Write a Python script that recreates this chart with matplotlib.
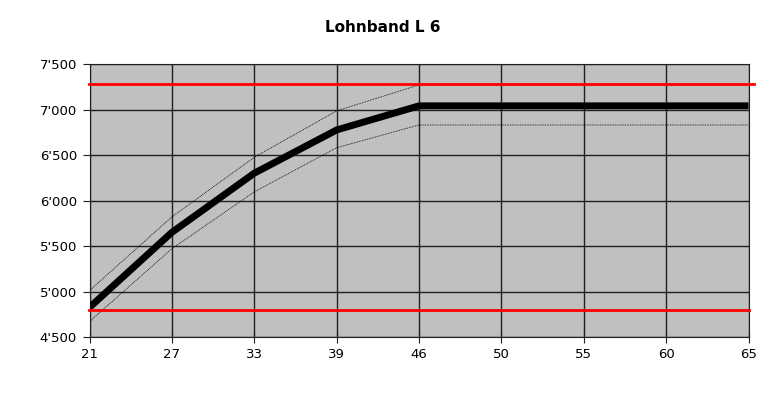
import numpy as np
import matplotlib.pyplot as plt

ages = ["21", "27", "33", "39", "46", "50", "55", "60", "65"]
lohn = [4825, 5650, 6300, 6775, 7040, 7040, 7040, 7040, 7040]
lohn_oben = [5010, 5820, 6475, 6985, 7270, 7270, 7270, 7270, 7270]
lohn_unten = [4670, 5470, 6095, 6580, 6830, 6830, 6830, 6830, 6830]
grenze_oben = 7280
grenze_unten = 4800

x = np.arange(len(ages))

fig = plt.figure(figsize=(7.72, 4.15), dpi=100)
ax = fig.add_axes([89.5/772, 1-337/415, 659/772, 273/415])
ax.set_facecolor("#c0c0c0")

ax.plot(x, lohn_oben, c="black", lw=0.6, ls=(0, (1, 1)), zorder=3)
ax.plot(x, lohn_unten, c="black", lw=0.6, ls=(0, (1, 1)), zorder=3)
ax.plot(x, lohn, c="black", lw=5, solid_capstyle="butt", zorder=4)
ax.plot([-0.01, 8.07], [grenze_oben, grenze_oben], c="#ff0000", lw=2, clip_on=False, zorder=5)
ax.plot([-0.01, 8.0], [grenze_unten, grenze_unten], c="#ff0000", lw=2, clip_on=False, zorder=5)

ax.set_xlim(0, 8)
ax.set_ylim(4500, 7500)
ax.set_xticks(x)
ax.set_xticklabels(ages)
yt = np.arange(4500, 7501, 500)
ax.set_yticks(yt)
ax.set_yticklabels([f"{v//1000}'{v%1000:03d}" for v in yt])
ax.grid(True, c="#202020", lw=1)
ax.set_axisbelow(True)
for s in ax.spines.values():
    s.set_color("#202020")
ax.tick_params(length=4, color="#202020", labelsize=9.5, pad=4)
ax.tick_params(axis="x", direction="inout", length=8)
ax.tick_params(axis="y", direction="out", length=5)

fig.text(383/772, 1-27/415, "Lohnband L 6", ha="center", va="center",
         fontsize=11, fontweight="bold")

plt.savefig("out.png", dpi=100)
